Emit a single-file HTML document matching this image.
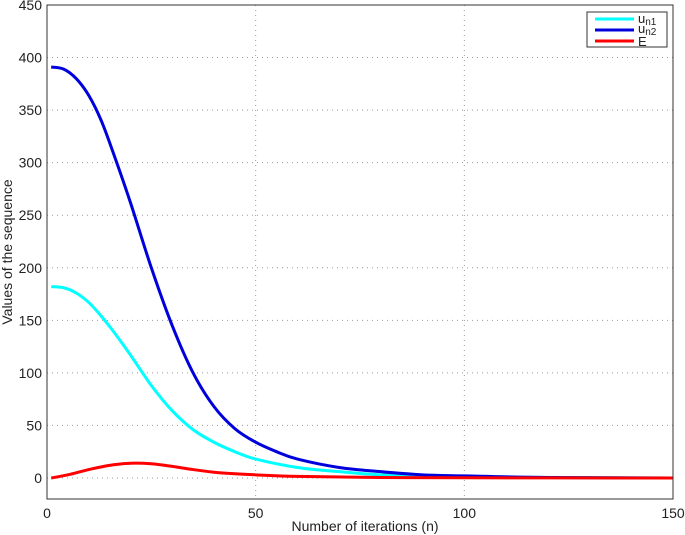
<!DOCTYPE html>
<html><head><meta charset="utf-8"><style>
body{margin:0;background:#fff;}
svg{display:block;font-family:"Liberation Sans",sans-serif;}
</style></head><body>
<svg id="chart" width="685" height="535">
<g id="grid"></g>
<g id="series"></g>
<rect x="47" y="5" width="626" height="494" fill="none" stroke="#333" stroke-width="1"/>
<g id="ticks" font-size="14" fill="#222"></g>
<text x="365" y="531" text-anchor="middle" font-size="14" fill="#222">Number of iterations (n)</text>
<text transform="translate(12,252) rotate(-90)" text-anchor="middle" font-size="14" fill="#222">Values of the sequence</text>
<g>
<rect x="587" y="12" width="80" height="35" fill="#fff" stroke="#333"/>
<line x1="595" y1="19" x2="634" y2="19" stroke="#00ffff" stroke-width="3"/>
<text x="638" y="23" font-size="13" fill="#222">u<tspan font-size="10" dy="2">n1</tspan></text>
<line x1="595" y1="30" x2="634" y2="30" stroke="#0000dd" stroke-width="3"/>
<text x="638" y="33" font-size="13" fill="#222">u<tspan font-size="10" dy="2">n2</tspan></text>
<line x1="595" y1="41" x2="634" y2="41" stroke="#ff0000" stroke-width="3"/>
<text x="638" y="46" font-size="13" fill="#222">E</text>
</g>
</svg>
<script>
const xTicks=[0,50,100,150];
const yTicks=[0,50,100,150,200,250,300,350,400,450];
const nU2=[1,4,7,10,13,16,20,25,30,35,40,45,50,55,60,70,80,90,100,120,150];
const valU2=[391,389,380,364,340,308,262,200,145,100,68,47,34,25,18,10,6,3,2,0.5,0];
const nU1=[1,4,7,10,13,16,20,25,30,35,40,45,50,60,70,80,100,150];
const valU1=[182,181,176,167,154,139,117,88,64,46,34,25,18,10,6,3,1,0];
const nE=[1,5,10,15,20,25,30,35,40,45,50,60,80,100,150];
const valE=[0,3,8,12,14,13.5,11,8,5.5,4,3,1.5,0.5,0.2,0];
const NS="http://www.w3.org/2000/svg";
const X0=47,X1=673,YB=499,YT=5;
const xs=v=>X0+(v-0)/(150-0)*(X1-X0);
const ys=v=>YB-(v-(-20))/(450-(-20))*(YB-YT);
const grid=document.getElementById('grid'),ticks=document.getElementById('ticks'),ser=document.getElementById('series');
xTicks.forEach(t=>{
 if(t>0&&t<150){const l=document.createElementNS(NS,'line');
 
 
 l.setAttribute('x1',xs(t));l.setAttribute('x2',xs(t));l.setAttribute('y1',YT);l.setAttribute('y2',YB);
 l.setAttribute('stroke','#999');l.setAttribute('stroke-dasharray','1 4');grid.appendChild(l);}
 const tx=document.createElementNS(NS,'text');
 
 
 tx.setAttribute('x',xs(t));tx.setAttribute('y',YB+19);tx.setAttribute('text-anchor','middle');tx.textContent=t;ticks.appendChild(tx);
});
yTicks.forEach(t=>{
 if(t<450){const l=document.createElementNS(NS,'line');
 
 
 l.setAttribute('x1',X0);l.setAttribute('x2',X1);l.setAttribute('y1',ys(t));l.setAttribute('y2',ys(t));
 l.setAttribute('stroke','#999');l.setAttribute('stroke-dasharray','1 4');grid.appendChild(l);}
 const tx=document.createElementNS(NS,'text');
 
 
 tx.setAttribute('x',X0-5);tx.setAttribute('y',ys(t)+5);tx.setAttribute('text-anchor','end');tx.textContent=t;ticks.appendChild(tx);
});
function path(ns,vs){
 const p=ns.map((n,i)=>[xs(n),ys(vs[i])]);
 let d='M'+p[0][0]+','+p[0][1];
 for(let i=0;i<p.length-1;i++){
  const a=p[i-1]||p[i],b=p[i],c=p[i+1],e=p[i+2]||c;
  const c1=[b[0]+(c[0]-a[0])/6,b[1]+(c[1]-a[1])/6],c2=[c[0]-(e[0]-b[0])/6,c[1]-(e[1]-b[1])/6];
  d+=' C'+c1+' '+c2+' '+c;
 }
 return d;
}
[[nU1,valU1,'#00ffff','series-un1'],[nU2,valU2,'#0000dd','series-un2'],[nE,valE,'#ff0000','series-e']].forEach(s=>{
 const p=document.createElementNS(NS,'path');
 
 
 p.setAttribute('d',path(s[0],s[1]));p.setAttribute('fill','none');p.setAttribute('stroke',s[2]);p.setAttribute('stroke-width','3');
 ser.appendChild(p);
});
</script>
</body></html>
